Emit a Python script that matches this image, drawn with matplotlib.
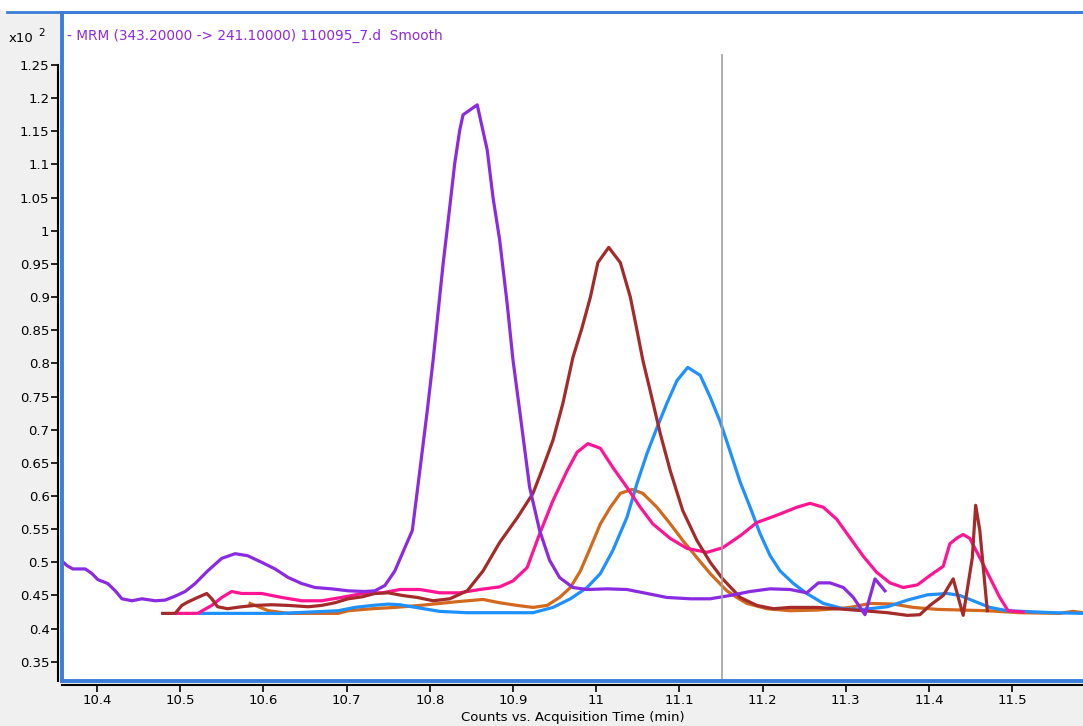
import matplotlib.pyplot as plt
from matplotlib.lines import Line2D
from matplotlib.patches import Rectangle
from matplotlib.ticker import FuncFormatter

# chromatogram traces (time in min, counts x10^2)
purple_t = [10.358, 10.364, 10.371, 10.386, 10.394, 10.401, 10.413, 10.422, 10.430, 10.442,
            10.454, 10.470, 10.482, 10.494, 10.506, 10.518, 10.533, 10.550, 10.566, 10.581,
            10.598, 10.614, 10.630, 10.646, 10.662, 10.682, 10.702, 10.722, 10.734, 10.746,
            10.758, 10.770, 10.779, 10.788, 10.797, 10.804, 10.816, 10.824, 10.830, 10.836,
            10.840, 10.857, 10.869, 10.876, 10.884, 10.893, 10.900, 10.908, 10.920, 10.932,
            10.944, 10.956, 10.972, 10.989, 11.013, 11.037, 11.061, 11.085, 11.113, 11.137,
            11.161, 11.185, 11.209, 11.233, 11.253, 11.267, 11.281, 11.297, 11.309, 11.323,
            11.335, 11.347]
purple_v = [0.502, 0.495, 0.490, 0.490, 0.483, 0.474, 0.468, 0.457, 0.445, 0.442,
            0.445, 0.442, 0.443, 0.449, 0.456, 0.468, 0.487, 0.506, 0.513, 0.510,
            0.500, 0.490, 0.477, 0.468, 0.462, 0.460, 0.457, 0.456, 0.457, 0.465,
            0.487, 0.522, 0.548, 0.638, 0.729, 0.805, 0.950, 1.036, 1.102, 1.152,
            1.175, 1.190, 1.122, 1.050, 0.986, 0.890, 0.805, 0.729, 0.613, 0.548,
            0.503, 0.477, 0.462, 0.459, 0.460, 0.459, 0.453, 0.447, 0.445, 0.445,
            0.450, 0.456, 0.460, 0.459, 0.454, 0.469, 0.469, 0.462, 0.447, 0.421,
            0.475, 0.457]

brown_t = [10.479, 10.494, 10.502, 10.509, 10.521, 10.532, 10.538, 10.545, 10.557, 10.574,
           10.590, 10.610, 10.630, 10.654, 10.670, 10.686, 10.702, 10.719, 10.734, 10.750,
           10.767, 10.785, 10.804, 10.824, 10.845, 10.864, 10.884, 10.905, 10.924, 10.936,
           10.948, 10.960, 10.972, 10.983, 10.993, 11.002, 11.015, 11.029, 11.041, 11.049,
           11.056, 11.065, 11.077, 11.089, 11.104, 11.121, 11.137, 11.152, 11.173, 11.193,
           11.213, 11.233, 11.265, 11.289, 11.321, 11.350, 11.374, 11.389, 11.401, 11.417,
           11.429, 11.441, 11.452, 11.456, 11.461, 11.470]
brown_v = [0.423, 0.423, 0.435, 0.440, 0.447, 0.453, 0.445, 0.433, 0.430, 0.433,
           0.435, 0.436, 0.435, 0.433, 0.435, 0.439, 0.445, 0.448, 0.453, 0.454,
           0.450, 0.447, 0.442, 0.445, 0.457, 0.487, 0.530, 0.567, 0.604, 0.643,
           0.684, 0.740, 0.809, 0.854, 0.900, 0.952, 0.975, 0.952, 0.900, 0.850,
           0.805, 0.758, 0.694, 0.638, 0.578, 0.533, 0.500, 0.475, 0.447, 0.435,
           0.430, 0.432, 0.432, 0.430, 0.427, 0.424, 0.420, 0.421, 0.435, 0.450,
           0.475, 0.420, 0.507, 0.586, 0.548, 0.427]

pink_t = [10.497, 10.521, 10.538, 10.550, 10.562, 10.574, 10.598, 10.622, 10.646, 10.670,
          10.694, 10.719, 10.743, 10.764, 10.788, 10.812, 10.836, 10.860, 10.884, 10.900,
          10.917, 10.932, 10.948, 10.965, 10.977, 10.990, 11.005, 11.020, 11.037, 11.053,
          11.068, 11.089, 11.109, 11.133, 11.152, 11.173, 11.193, 11.217, 11.241, 11.257,
          11.273, 11.289, 11.305, 11.321, 11.337, 11.353, 11.369, 11.386, 11.401, 11.417,
          11.425, 11.434, 11.441, 11.449, 11.461, 11.473, 11.485, 11.495, 11.513]
pink_v = [0.423, 0.423, 0.435, 0.447, 0.456, 0.453, 0.453, 0.447, 0.442, 0.442,
          0.447, 0.453, 0.454, 0.459, 0.459, 0.454, 0.454, 0.459, 0.463, 0.472,
          0.492, 0.543, 0.593, 0.638, 0.666, 0.679, 0.672, 0.643, 0.613, 0.583,
          0.558, 0.536, 0.521, 0.515, 0.522, 0.540, 0.560, 0.571, 0.583, 0.589,
          0.583, 0.565, 0.537, 0.509, 0.485, 0.469, 0.462, 0.466, 0.480, 0.494,
          0.528, 0.537, 0.542, 0.536, 0.507, 0.477, 0.447, 0.427, 0.425]

blue_t = [10.524, 10.622, 10.690, 10.710, 10.731, 10.750, 10.764, 10.788, 10.812, 10.845,
          10.884, 10.924, 10.948, 10.969, 10.989, 11.005, 11.020, 11.037, 11.049, 11.061,
          11.073, 11.085, 11.097, 11.110, 11.125, 11.137, 11.149, 11.161, 11.173, 11.185,
          11.197, 11.209, 11.221, 11.237, 11.253, 11.273, 11.297, 11.321, 11.350, 11.374,
          11.398, 11.422, 11.437, 11.453, 11.473, 11.494, 11.549, 11.585]
blue_v = [0.423, 0.423, 0.427, 0.432, 0.435, 0.437, 0.436, 0.431, 0.426, 0.424,
          0.424, 0.424, 0.432, 0.445, 0.462, 0.483, 0.518, 0.568, 0.619, 0.664,
          0.703, 0.740, 0.774, 0.794, 0.782, 0.749, 0.712, 0.667, 0.621, 0.583,
          0.543, 0.510, 0.487, 0.468, 0.453, 0.438, 0.430, 0.429, 0.433, 0.443,
          0.451, 0.453, 0.450, 0.442, 0.432, 0.427, 0.424, 0.423]

orange_t = [10.584, 10.606, 10.630, 10.690, 10.702, 10.731, 10.758, 10.788, 10.812, 10.836,
            10.864, 10.884, 10.905, 10.924, 10.941, 10.956, 10.969, 10.981, 10.993, 11.005,
            11.017, 11.029, 11.043, 11.056, 11.073, 11.089, 11.104, 11.121, 11.137, 11.157,
            11.169, 11.181, 11.205, 11.233, 11.265, 11.289, 11.305, 11.329, 11.357, 11.381,
            11.410, 11.470, 11.509, 11.557, 11.573, 11.585]
orange_v = [0.438, 0.427, 0.423, 0.423, 0.427, 0.430, 0.432, 0.435, 0.438, 0.441,
            0.444, 0.439, 0.435, 0.432, 0.435, 0.447, 0.462, 0.487, 0.522, 0.558,
            0.583, 0.604, 0.610, 0.604, 0.583, 0.558, 0.533, 0.507, 0.483, 0.457,
            0.447, 0.438, 0.430, 0.427, 0.428, 0.430, 0.432, 0.438, 0.437, 0.432,
            0.429, 0.427, 0.424, 0.423, 0.426, 0.424]

cursor_t = 11.151
x_ticks = [10.4, 10.5, 10.6, 10.7, 10.8, 10.9, 11.0, 11.1, 11.2, 11.3, 11.4, 11.5]
y_ticks = [0.35, 0.4, 0.45, 0.5, 0.55, 0.6, 0.65, 0.7, 0.75, 0.8, 0.85, 0.9, 0.95,
           1.0, 1.05, 1.1, 1.15, 1.2, 1.25]
title = "- MRM (343.20000 -> 241.10000) 110095_7.d  Smooth"

W, H = 1083, 726
frame_blue = '#3b7dd8'
fig = plt.figure(figsize=(W / 100, H / 100), dpi=100, facecolor='#f0f0f0')
fig.patches.append(Rectangle((0, 1 - 11 / H), 1, 11 / H, transform=fig.transFigure,
                             facecolor='white', edgecolor='none', zorder=0))
fig.lines.append(Line2D([7 / W, 1], [1 - 12 / H, 1 - 12 / H], transform=fig.transFigure,
                        color=frame_blue, lw=2))

ax = fig.add_axes([62 / W, 1 - 681 / H, 1 - 62 / W, 669 / H])
ax.set_facecolor('white')

ax.plot(orange_t, orange_v, color='#d2691e', lw=2.3)
ax.plot(blue_t, blue_v, color='#1e90ff', lw=2.3)
ax.plot(pink_t, pink_v, color='#ff1493', lw=2.3)
ax.plot(brown_t, brown_v, color='#a52a2a', lw=2.3)
ax.plot(purple_t, purple_v, color='#8a2be2', lw=2.3)
ax.plot([cursor_t, cursor_t], [0.3, 1.265], color='#a0a0a0', lw=1.2)

ax.set_xlim(10.358, 11.585)
ax.set_ylim(0.321, 1.33)
ax.set_xticks(x_ticks)
ax.set_yticks(y_ticks)
fmt = FuncFormatter(lambda v, p: '%g' % round(v, 2))
ax.xaxis.set_major_formatter(fmt)
ax.yaxis.set_major_formatter(fmt)

for s in ['top', 'right']:
    ax.spines[s].set_visible(False)
for s in ['left', 'bottom']:
    ax.spines[s].set_color('black')
    ax.spines[s].set_linewidth(1.5)
    ax.spines[s].set_position(('outward', 3))
ax.spines['left'].set_bounds(0.321, 1.25)
ax.tick_params(direction='out', length=5, width=1.2, colors='black', labelsize=9.5, pad=1)

# blue plot frame
ax.plot([0, 0], [0, 1], transform=ax.transAxes, color=frame_blue, lw=2.8, clip_on=False)
ax.plot([0, 1], [0, 0], transform=ax.transAxes, color=frame_blue, lw=2.8, clip_on=False)
ax.plot([0, 1], [1, 1], transform=ax.transAxes, color=frame_blue, lw=2, clip_on=False)

ax.set_xlabel('Counts vs. Acquisition Time (min)', fontsize=9.5, labelpad=3)
fig.text(67 / W, 1 - 36 / H, title, color='#8a2be2', fontsize=9.8, va='center', ha='left')
fig.text(9 / W, 1 - 38 / H, 'x10', fontsize=9.5, va='center', ha='left')
fig.text(38 / W, 1 - 33 / H, '2', fontsize=7.5, va='center', ha='left')

fig.savefig('out.png', dpi=100, facecolor=fig.get_facecolor())
